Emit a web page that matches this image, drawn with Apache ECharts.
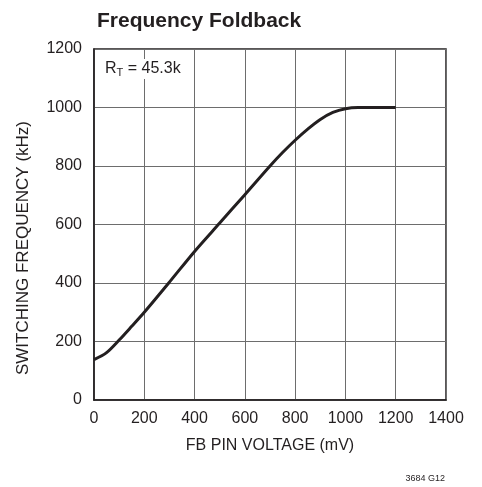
<!DOCTYPE html>
<html>
<head>
<meta charset="utf-8">
<script src="https://cdn.jsdelivr.net/npm/echarts@6/dist/echarts.min.js"></script>
<style>
html,body{margin:0;padding:0;background:#fff;}
#c{width:482px;height:487px;}
</style>
</head>
<body>
<div id="c"></div>
<script>
var fbVoltage = [0, 50, 100, 150, 200, 300, 400, 500, 600, 700, 750, 800, 850, 900, 950, 1000, 1050, 1100, 1200];
var switchingFreq = [138, 162, 205, 252, 300, 403, 508, 605, 702, 800, 846, 888, 926, 959, 983, 996, 1000, 1000, 1000];
var xTicks = [0, 200, 400, 600, 800, 1000, 1200, 1400];
var yTicks = [0, 200, 400, 600, 800, 1000, 1200];

var FONT = '"Liberation Sans", Arial, sans-serif';
var INK = '#231f20';
var chart = echarts.init(document.getElementById('c'), null, {renderer: 'canvas'});
var pts = fbVoltage.map(function (v, i) { return [v, switchingFreq[i]]; });
chart.setOption({
  animation: false,
  backgroundColor: '#fff',
  title: {
    text: 'Frequency Foldback',
    left: 92, top: 6,
    textStyle: {fontFamily: FONT, fontWeight: 'bold', fontSize: 21, color: INK}
  },
  grid: {left: 94, right: 36, top: 49, bottom: 87, show: true, borderColor: INK, borderWidth: 1.5, backgroundColor: 'transparent'},
  xAxis: {
    type: 'value', min: xTicks[0], max: xTicks[xTicks.length - 1], interval: 200,
    name: 'FB PIN VOLTAGE (mV)', nameLocation: 'middle', nameGap: 38,
    nameTextStyle: {fontFamily: FONT, fontSize: 16, color: INK},
    axisLine: {show: true, lineStyle: {color: INK, width: 1.5}},
    axisTick: {show: false},
    axisLabel: {fontFamily: FONT, fontSize: 16, color: INK, margin: 11, formatter: function (v) { return String(v); }},
    splitLine: {show: true, lineStyle: {color: '#6d6d6d', width: 1}}
  },
  yAxis: {
    type: 'value', min: yTicks[0], max: yTicks[yTicks.length - 1], interval: 200,
    axisLine: {show: true, lineStyle: {color: INK, width: 1.5}},
    axisTick: {show: false},
    axisLabel: {fontFamily: FONT, fontSize: 16, color: INK, margin: 12, formatter: function (v) { return String(v); }},
    splitLine: {show: true, lineStyle: {color: '#6d6d6d', width: 1}}
  },
  graphic: [
    {
      type: 'text', x: 23, y: 248, rotation: Math.PI / 2,
      style: {text: 'SWITCHING FREQUENCY (kHz)', fontFamily: FONT, fontSize: 17, fill: INK, align: 'center', verticalAlign: 'middle'}
    },
    {
      type: 'text', x: 103, y: 59, z: 100,
      style: {
        text: '{a|R}{b|T}{a| = 45.3k}',
        backgroundColor: '#fff', padding: [1, 2, 1, 2],
        rich: {
          a: {fontFamily: FONT, fontSize: 16, fill: INK, color: INK},
          b: {fontFamily: FONT, fontSize: 11, fill: INK, color: INK, padding: [7, 0, 0, 0]}
        }
      }
    },
    {
      type: 'text', x: 445, y: 479,
      style: {text: '3684 G12', fontFamily: FONT, fontSize: 9, fill: INK, align: 'right', verticalAlign: 'middle'}
    }
  ],
  series: [{
    type: 'line', data: pts, smooth: 0.3, showSymbol: false,
    lineStyle: {color: INK, width: 3}
  }]
});
</script>
</body>
</html>
